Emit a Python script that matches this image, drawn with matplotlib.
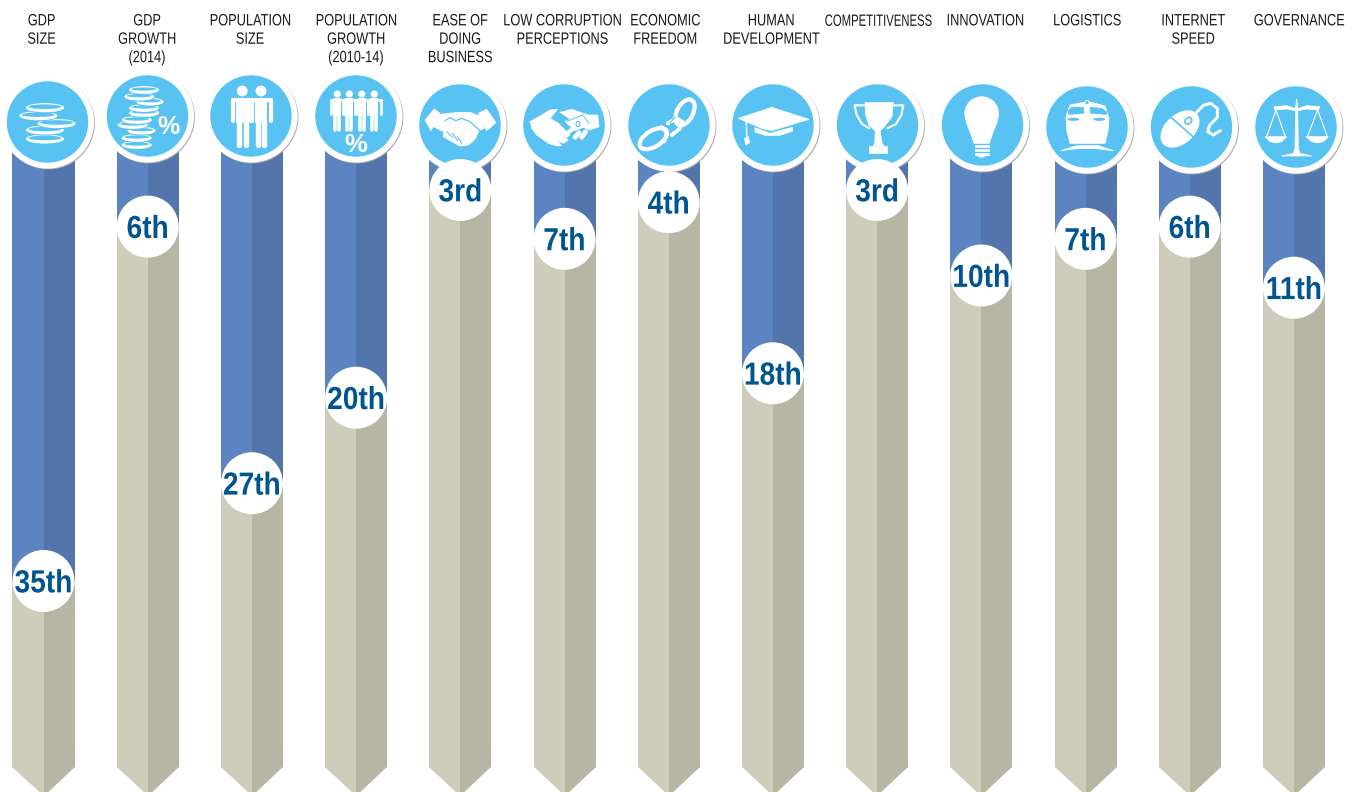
import matplotlib
matplotlib.use("Agg")
import matplotlib.pyplot as plt
from matplotlib.patches import Polygon, Ellipse, Circle, Rectangle
from matplotlib.lines import Line2D
from matplotlib.patheffects import AbstractPathEffect
from matplotlib.transforms import Affine2D

# ---- chart content ----
categories = ["GDP\nSIZE", "GDP\nGROWTH\n(2014)", "POPULATION\nSIZE", "POPULATION\nGROWTH\n(2010-14)",
              "EASE OF\nDOING\nBUSINESS", "LOW CORRUPTION\nPERCEPTIONS", "ECONOMIC\nFREEDOM",
              "HUMAN\nDEVELOPMENT", "COMPETITIVENESS", "INNOVATION", "LOGISTICS",
              "INTERNET\nSPEED", "GOVERNANCE"]
ranks = [35, 6, 27, 20, 3, 7, 4, 18, 3, 10, 7, 6, 11]
rank_labels = ["35th", "6th", "27th", "20th", "3rd", "7th", "4th", "18th", "3rd", "10th", "7th", "6th", "11th"]

# ---- layout (pixels of the 1355x792 canvas) ----
W, H = 1355, 792
title_x = [41.5, 147, 250, 356, 460, 562, 665, 771, 878, 985, 1087, 1193, 1299]
icon_x = [47.5, 147.5, 251, 356, 460, 564, 669, 773, 877.5, 982.5, 1087, 1191.5, 1296]
icon_y = [122, 116, 116, 116, 125, 125, 125, 125, 125, 125, 127, 127, 127]
COL0, COL_STEP, COL_HALF = 43.5, 104.2, 31.0
RANK0, RANK_STEP = 153.3, 12.22
BLUE_L, BLUE_R = "#5B84C1", "#5375AC"
SAND_L, SAND_R = "#CECDBB", "#B7B6A4"
SKY = "#58C3F2"
INK = "#00558F"
SANS = ["Liberation Sans", "DejaVu Sans"]


class Tall(AbstractPathEffect):
    """Stretches a text's outline vertically about its anchor, giving a condensed look."""

    def __init__(self, sy):
        super().__init__()
        self.sy = sy
        self.artist = None

    def draw_path(self, renderer, gc, tpath, affine, rgbFace=None):
        cy = self.artist.get_transform().transform(self.artist.get_position())[1]
        stretch = Affine2D().translate(0, -cy).scale(1, self.sy).translate(0, cy)
        renderer.draw_path(gc, tpath, affine + stretch, rgbFace)


def tall_text(axes, x, y, s, sy, **kw):
    txt = axes.text(x, y, s, ha="center", family=SANS, **kw)
    effect = Tall(sy)
    effect.artist = txt
    txt.set_path_effects([effect])
    return txt


fig = plt.figure(figsize=(W / 100, H / 100), dpi=100, facecolor="white")


def rank_axes():
    # Position along y is the country's rank, one x unit per indicator.
    a = fig.add_axes([0, 0, 1, 1], facecolor="none")
    a.set_xlim(-COL0 / COL_STEP, (W - COL0) / COL_STEP)
    a.set_ylim((H - RANK0) / RANK_STEP, -RANK0 / RANK_STEP)
    a.axis("off")
    return a


ax = rank_axes()
half = COL_HALF / COL_STEP
column_top = -3.0
shoulder = (767 - RANK0) / RANK_STEP
tip = (796 - RANK0) / RANK_STEP

for i, r in enumerate(ranks):
    ax.bar(i - half / 2, r - column_top, width=half, bottom=column_top, color=BLUE_L, linewidth=0)
    ax.bar(i + half / 2, r - column_top, width=half, bottom=column_top, color=BLUE_R, linewidth=0)
    ax.bar(i - half / 2, shoulder - r, width=half, bottom=r, color=SAND_L, linewidth=0)
    ax.bar(i + half / 2, shoulder - r, width=half, bottom=r, color=SAND_R, linewidth=0)
    ax.add_patch(Polygon([(i - half, shoulder), (i, shoulder), (i, tip)], color=SAND_L, lw=0))
    ax.add_patch(Polygon([(i + half, shoulder), (i, shoulder), (i, tip)], color=SAND_R, lw=0))

# Badges and headings are placed on a plain pixel grid above the columns.
top = fig.add_axes([0, 0, 1, 1], facecolor="none")
top.set_xlim(0, W)
top.set_ylim(H, 0)
top.axis("off")


def grid(ox, oy):
    """Glyph outlines are sketched on a 3x grid anchored at (ox, oy)."""
    return Affine2D().scale(1 / 3).translate(ox, oy) + top.transData


def fill(tr, pts, color="white", z=12):
    top.add_patch(Polygon(pts, closed=True, facecolor=color, edgecolor=color, lw=0.5,
                          joinstyle="round", transform=tr, zorder=z))


def stroke(tr, pts, w, color="white", z=12):
    xs, ys = zip(*pts)
    top.add_line(Line2D(xs, ys, color=color, lw=w, solid_capstyle="round", solid_joinstyle="round",
                        transform=tr, zorder=z))


def oval(tr, xy, rx, ry, color="white", angle=0, z=12):
    top.add_patch(Ellipse(xy, 2 * rx, 2 * ry, angle=angle, facecolor=color, edgecolor="none",
                          transform=tr, zorder=z))


def ring(tr, xy, rx, ry, w, angle=0, color="white", z=12):
    top.add_patch(Ellipse(xy, 2 * rx, 2 * ry, angle=angle, facecolor="none", edgecolor=color, lw=w,
                          transform=tr, zorder=z))


def badge(cx, cy):
    top.add_patch(Circle((cx + 1.0, cy + 1.0), 46.4, color="#ABABAB", lw=0, zorder=8))
    top.add_patch(Circle((cx, cy), 46.6, color="white", lw=0, zorder=9))
    top.add_patch(Circle((cx, cy), 40.7, color=SKY, lw=0, zorder=10))


def coin(x, y, rx=19, ry=4.6, z=12):
    top.add_patch(Ellipse((x, y), 2 * rx + 2.2, 2 * ry + 2.2, facecolor=SKY, edgecolor="none", zorder=z))
    top.add_patch(Ellipse((x, y), 2 * rx, 2 * ry, facecolor="white", edgecolor="none", zorder=z))
    top.add_patch(Ellipse((x, y - 1.0), 2 * rx - 5, 2 * ry - 4.6, facecolor=SKY, edgecolor="none", zorder=z))


def person(x, y, s):
    lw_arm, lw_leg = 4.2 * s * 0.72, 5.4 * s * 0.72
    top.add_patch(Circle((x, y), 5.4 * s, color="white", lw=0, zorder=12))
    top.add_patch(Rectangle((x - 6.2 * s, y + 6.5 * s), 12.4 * s, 25 * s, color="white", lw=0, zorder=12))
    kw = dict(color="white", solid_capstyle="round", zorder=12)
    top.add_line(Line2D([x - 9.6 * s, x + 9.6 * s], [y + 8.5 * s, y + 8.5 * s], lw=lw_arm, **kw))
    for side in (-1, 1):
        top.add_line(Line2D([x + side * 9.6 * s] * 2, [y + 8.5 * s, y + 30 * s], lw=lw_arm, **kw))
        top.add_line(Line2D([x + side * 3.3 * s] * 2, [y + 30 * s, y + 54 * s], lw=lw_leg, **kw))


def percent(x, y, size):
    top.text(x, y, "%", color="white", fontsize=size, fontweight="bold", family=SANS,
             ha="center", va="center", zorder=13)


for cx, cy in zip(icon_x, icon_y):
    badge(cx, cy)

# coins
for x, y in [(45, 139), (45, 130), (56.7, 123.5), (38.3, 115.7), (45, 107.7)]:
    coin(x, y)

# coins with a percent sign
for x, y, rx in [(136.7, 145, 15), (136.7, 138, 15), (141.7, 130.7, 14), (132.7, 125, 15), (136.7, 120, 15),
                 (144, 113, 15), (144, 108, 15), (150, 101.7, 13.5), (139.3, 96.7, 15), (144, 90, 15)]:
    coin(x, y, rx, 3.9)
percent(168.3, 127.3, 18)

# people
person(242.3, 91, 1.0)
person(261, 91, 1.0)

# people with a percent sign
for x in (337.3, 349.3, 361.7, 374.3):
    person(x, 94, 0.66)
percent(355.7, 145, 18.5)

# handshake
t = grid(415, 80)
fill(t, [(30, 120), (58, 87), (75, 100), (48, 152)])
fill(t, [(190, 100), (215, 88), (243, 128), (215, 152)])
fill(t, [(62, 105), (100, 100), (135, 97), (165, 97), (198, 110), (208, 145), (192, 152), (180, 178), (160, 195),
         (135, 198), (110, 185), (85, 170), (85, 155), (55, 140)])
stroke(t, [(90, 122), (105, 113), (122, 122), (140, 115), (165, 125), (195, 152)], 0.9, SKY, 13)
for a, b in [((95, 155), (112, 172)), ((112, 160), (128, 182)), ((128, 170), (140, 190))]:
    stroke(t, [a, b], 0.8, SKY, 13)

# open hand and money
fill(t, [(345, 125), (375, 108), (405, 90), (428, 88), (405, 115), (430, 130), (465, 165), (455, 172), (440, 165),
         (460, 180), (445, 190), (425, 180), (440, 197), (425, 198), (400, 190), (365, 165), (350, 145)])
fill(t, [(435, 97), (470, 88), (520, 105), (548, 105), (552, 140), (525, 150), (500, 140), (470, 120)])
fill(t, [(450, 125), (505, 100), (528, 132), (480, 152)])
stroke(t, [(456, 124), (503, 105), (522, 130)], 0.7, SKY, 13)
stroke(t, [(470, 150), (460, 156)], 3.0)
stroke(t, [(492, 158), (480, 172)], 3.4)
stroke(t, [(512, 155), (500, 172)], 3.4)
ring(t, (489, 132), 6, 8, 0.8, color=SKY, z=13)

# broken chain
t = grid(625, 80)
ring(t, (180, 97), 42, 24, 3.0, angle=-62)
ring(t, (85, 176), 46, 24, 3.0, angle=-32)
stroke(t, [(128, 130), (155, 115), (172, 125), (165, 145), (140, 165)], 2.8)
stroke(t, [(110, 140), (125, 160), (118, 185)], 2.4)
stroke(t, [(150, 112), (135, 128), (150, 150)], 0.8, SKY, 13)

# graduation cap
fill(t, [(340, 115), (440, 82), (552, 118), (470, 143), (440, 152), (410, 145)])
fill(t, [(390, 143), (435, 160), (502, 142), (502, 154), (465, 166), (420, 166), (390, 156)])
stroke(t, [(364, 125), (365, 172)], 1.0)
fill(t, [(358, 175), (370, 170), (374, 188), (362, 195)])

# trophy
t = grid(680, 0)
fill(t, [(555, 308), (640, 308), (636, 350), (615, 378), (600, 392), (585, 392), (567, 376), (557, 345)])
fill(t, [(586, 390), (600, 390), (606, 430), (612, 437), (580, 437), (584, 430)])
fill(t, [(567, 438), (622, 438), (622, 458), (567, 458)])
stroke(t, [(555, 316), (524, 316), (530, 345), (546, 372), (568, 385)], 1.5)
stroke(t, [(640, 316), (670, 316), (664, 345), (648, 372), (622, 385)], 1.5)

# light bulb
oval(t, (905, 341), 52, 52)
fill(t, [(858, 365), (952, 365), (938, 400), (928, 430), (882, 430), (872, 400)])
for yb in (436, 447, 458):
    fill(t, [(885, yb), (928, yb), (928, yb + 6), (885, yb + 6)])
fill(t, [(893, 467), (918, 467), (905, 473)])

# locomotive
t = grid(1040, 80)
fill(t, [(90, 75), (135, 66), (150, 66), (195, 78), (207, 115), (205, 150), (195, 190), (90, 190), (80, 150), (78, 110)])
fill(t, [(85, 92), (95, 82), (130, 82), (132, 100), (85, 103)], SKY, 13)
fill(t, [(150, 82), (185, 85), (200, 96), (200, 103), (152, 100)], SKY, 13)
oval(t, (100, 118), 18, 4.5, SKY, z=13)
oval(t, (178, 118), 18, 4.5, SKY, z=13)
oval(t, (141, 68), 8, 8, z=13)
oval(t, (141, 68), 5, 5, SKY, z=13)
fill(t, [(62, 212), (110, 197), (175, 197), (220, 212), (170, 206), (110, 206)])

# computer mouse
oval(t, (420, 147), 68, 44, angle=-42)
stroke(t, [(393, 112), (470, 180)], 1.2, SKY, 13)
ring(t, (445, 122), 11, 9, 1.2, angle=-42, color=SKY, z=13)
stroke(t, [(470, 97), (490, 76), (512, 70), (532, 85), (532, 112), (508, 137), (503, 155), (520, 165), (541, 152)], 2.1)

# scales
t = grid(1250, 85)
fill(t, [(137, 65), (140, 42), (143, 65), (145, 190), (150, 205), (185, 213), (95, 213), (130, 205), (135, 190)])
fill(t, [(72, 65), (110, 62), (140, 72), (170, 62), (210, 65), (205, 75), (170, 72), (140, 78), (110, 72), (75, 75)])
for apex, a, b in [(78, 50, 106), (203, 172, 232)]:
    stroke(t, [(a, 155), (apex, 75), (b, 155)], 0.8)
fill(t, [(45, 155), (110, 155), (95, 170), (78, 174), (60, 170)])
fill(t, [(168, 155), (235, 155), (220, 170), (202, 174), (185, 170)])

# headings: cap height stays constant, the longest word runs narrower
LINE = 18.4
CAP_SIZE = 11.8
narrowing = {"COMPETITIVENESS": 0.69}
for x, label in zip(title_x, categories):
    for n, part in enumerate(label.split("\n")):
        k = narrowing.get(part, 0.78)
        tall_text(top, x, 21.5 + n * LINE, part, 1 / k, fontsize=CAP_SIZE * k, color="#1A1A1A",
                  va="center", zorder=14)

# Rank discs sit above both the columns and the badges.
ax_rank = rank_axes()
for i, r in enumerate(ranks):
    ax_rank.add_patch(Ellipse((i, r), 2 * COL_HALF / COL_STEP, 2 * COL_HALF / RANK_STEP, color="white", lw=0, zorder=5))
    tall_text(ax_rank, i, r, rank_labels[i], 1 / 0.88, fontweight="bold", fontsize=23 * 0.88, color=INK,
              va="center_baseline", zorder=6)

fig.savefig("out.png", dpi=100, facecolor="white")
